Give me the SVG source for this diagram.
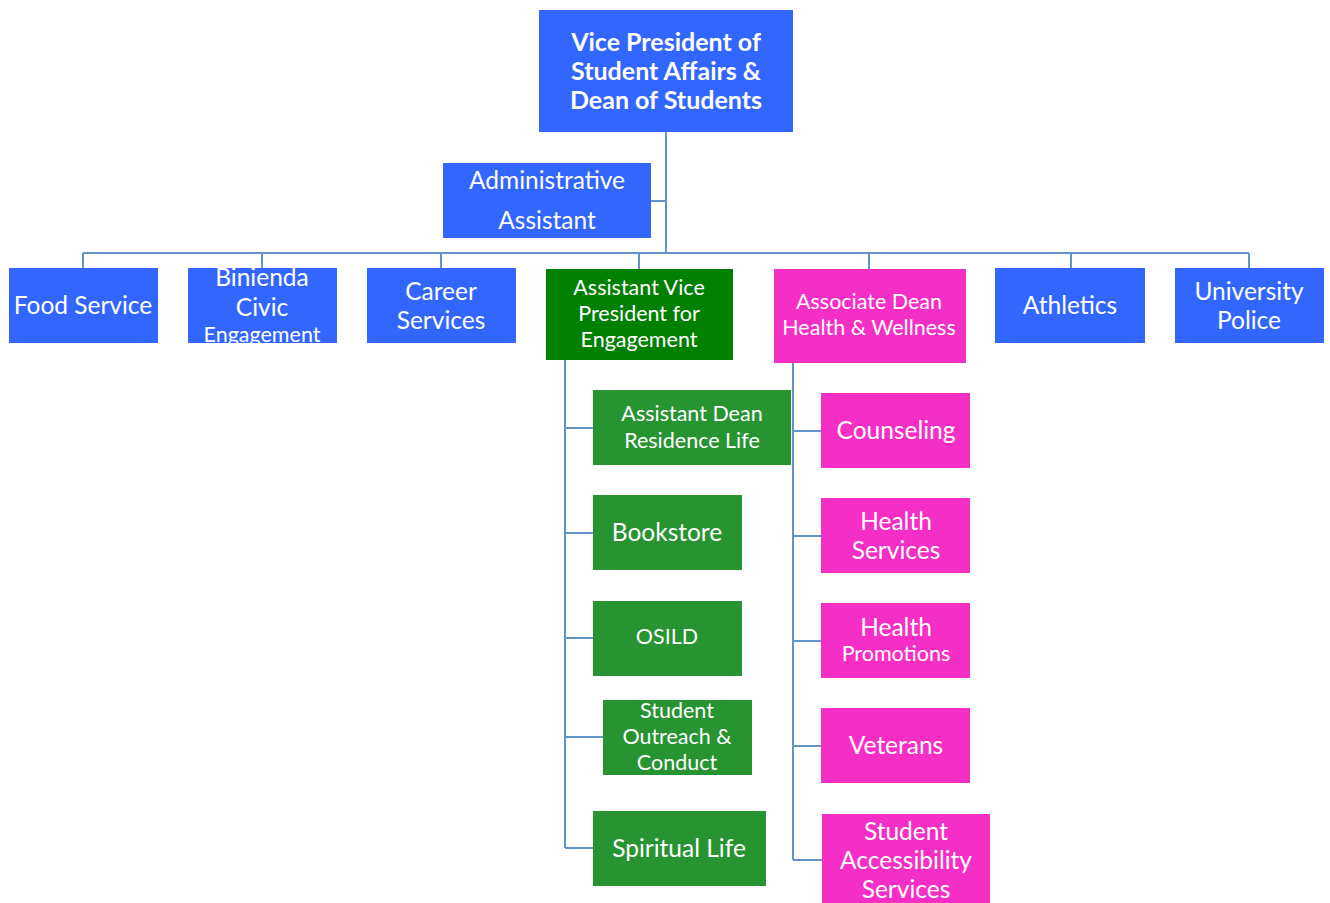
<svg xmlns="http://www.w3.org/2000/svg" width="1330" height="903" viewBox="0 0 1330 903">
<style>
.b{fill:#3366FF}.g{fill:#279331}.dg{fill:#008000}.p{fill:#F52EC6}
text{font-family:Lato,"Open Sans","Liberation Sans",sans-serif;fill:#fff;text-anchor:middle;dominant-baseline:central}
.l{font-size:24.5px}.m{font-size:21.5px}.bold{font-weight:bold;font-size:25px}
.c{stroke:#6394c6;stroke-width:2;fill:none}
</style>
<defs><clipPath id="clipB"><rect x="188" y="268" width="149" height="75"/></clipPath></defs>
<g id="connectors" class="c">
<path d="M666 132V253M651 201H666M83 253H1249M83 253V268M262 253V268M441 253V268M639 253V269M869 253V269M1071 253V268M1249 253V268"/>
<path d="M565 360V848M565 428H593M565 533H593M565 638H593M565 737H603M565 848H593"/>
<path d="M793 363V860M793 431H821M793 536H821M793 641H821M793 746H821M793 860H822"/>
</g>
<g id="vp"><rect class="b" x="539" y="10" width="254" height="122"/><text class="bold" x="666" y="41">Vice President of</text><text class="bold" x="666" y="70">Student Affairs &amp;</text><text class="bold" x="666" y="99">Dean of Students</text></g>
<g id="admin"><rect class="b" x="443" y="163" width="208" height="75"/><text class="l" x="547" y="179">Administrative</text><text class="l" x="547" y="219">Assistant</text></g>
<g id="food"><rect class="b" x="9" y="268" width="149" height="75"/><text class="l" x="83" y="304">Food Service</text></g>
<g id="binienda"><rect class="b" x="188" y="268" width="149" height="75"/><g clip-path="url(#clipB)"><text class="l" x="262" y="276">Binienda</text><text class="l" x="262" y="306">Civic</text><text class="m" x="262" y="334">Engagement</text></g></g>
<g id="career"><rect class="b" x="367" y="268" width="149" height="75"/><text class="l" x="441" y="290">Career</text><text class="l" x="441" y="319">Services</text></g>
<g id="avp"><rect class="dg" x="546" y="269" width="187" height="91"/><text class="m" x="639" y="287">Assistant Vice</text><text class="m" x="639" y="313">President for</text><text class="m" x="639" y="339">Engagement</text></g>
<g id="assocdean"><rect class="p" x="774" y="269" width="192" height="94"/><text class="m" x="869" y="301">Associate Dean</text><text class="m" x="869" y="327">Health &amp; Wellness</text></g>
<g id="athletics"><rect class="b" x="995" y="268" width="150" height="75"/><text class="l" x="1070" y="304">Athletics</text></g>
<g id="police"><rect class="b" x="1175" y="268" width="149" height="75"/><text class="l" x="1249" y="290">University</text><text class="l" x="1249" y="319">Police</text></g>
<g id="reslife"><rect class="g" x="593" y="390" width="198" height="75"/><text class="m" x="692" y="413">Assistant Dean</text><text class="m" x="692" y="440">Residence Life</text></g>
<g id="bookstore"><rect class="g" x="593" y="495" width="149" height="75"/><text class="l" x="667" y="531">Bookstore</text></g>
<g id="osild"><rect class="g" x="593" y="601" width="149" height="75"/><text class="m" x="667" y="636">OSILD</text></g>
<g id="outreach"><rect class="g" x="603" y="700" width="149" height="75"/><text class="m" x="677" y="710">Student</text><text class="m" x="677" y="736">Outreach &amp;</text><text class="m" x="677" y="762">Conduct</text></g>
<g id="spiritual"><rect class="g" x="593" y="811" width="173" height="75"/><text class="l" x="679" y="847">Spiritual Life</text></g>
<g id="counseling"><rect class="p" x="821" y="393" width="149" height="75"/><text class="l" x="896" y="429">Counseling</text></g>
<g id="healthsvc"><rect class="p" x="821" y="498" width="149" height="75"/><text class="l" x="896" y="520">Health</text><text class="l" x="896" y="549">Services</text></g>
<g id="healthpromo"><rect class="p" x="821" y="603" width="149" height="75"/><text class="l" x="896" y="626">Health</text><text class="m" x="896" y="653">Promotions</text></g>
<g id="veterans"><rect class="p" x="821" y="708" width="149" height="75"/><text class="l" x="896" y="744">Veterans</text></g>
<g id="access"><rect class="p" x="822" y="814" width="168" height="89"/><text class="l" x="906" y="830">Student</text><text class="l" x="906" y="859">Accessibility</text><text class="l" x="906" y="888">Services</text></g>
</svg>
